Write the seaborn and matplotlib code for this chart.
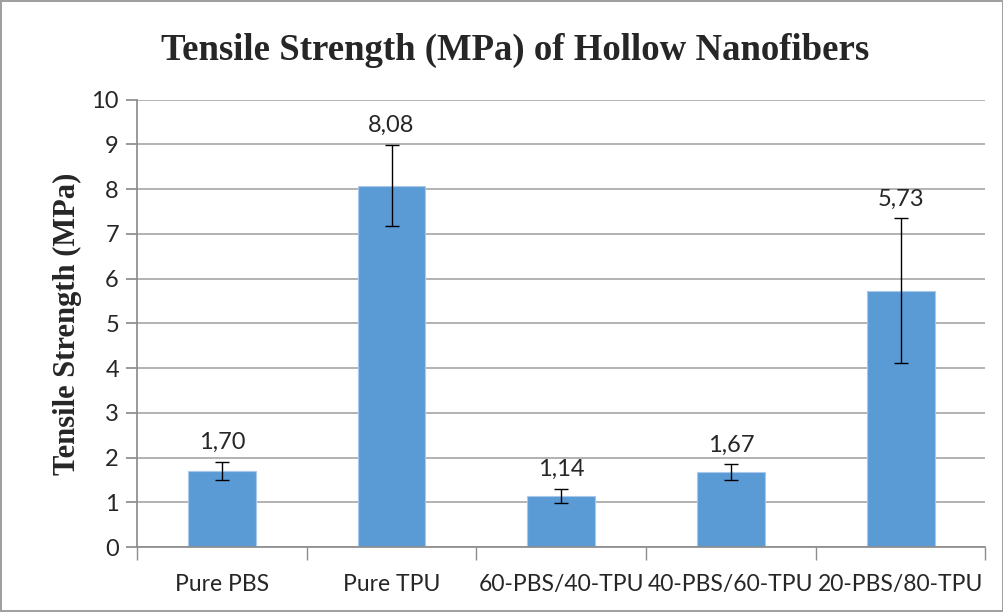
import numpy as np
import pandas as pd
import matplotlib.pyplot as plt
import seaborn as sns

sns.set_theme(style="white")
plt.rcParams['font.family'] = ['Lato', 'DejaVu Sans']

# data
samples = ["Pure PBS", "Pure TPU", "60-PBS/40-TPU", "40-PBS/60-TPU", "20-PBS/80-TPU"]
strength = [1.70, 8.08, 1.14, 1.67, 5.73]
strength_err = [0.21, 0.91, 0.16, 0.18, 1.62]
labels = ["1,70", "8,08", "1,14", "1,67", "5,73"]

df = pd.DataFrame({"sample": samples, "strength": strength, "err": strength_err})

fig = plt.figure(figsize=(10.04, 6.12), dpi=100, linewidth=1.5, edgecolor="#a0a0a0")
ax = fig.add_axes([0.1365, 0.106, 0.845, 0.731])

sns.barplot(data=df, x="sample", y="strength", color="#5b9bd5", width=0.4,
            edgecolor="#a9c8ec", linewidth=0.8, saturation=1, ax=ax, zorder=2)
xs = np.arange(len(df))
ax.errorbar(xs, df["strength"], yerr=df["err"], fmt="none", ecolor="black",
            elinewidth=1, capsize=5, capthick=1, zorder=3)

# value labels above the error bars
for x, v, e, lab in zip(xs, df["strength"], df["err"], labels):
    ax.text(x, v + e + 0.2, lab, ha="center", va="bottom", fontsize=17)

ax.set_ylim(0, 10)
ax.set_xlim(-0.5, 4.5)
ax.set_yticks(range(0, 11))
ax.yaxis.grid(True, color="#a6a6a6", linewidth=1.2, zorder=0)
ax.set_axisbelow(True)
for s in ["top", "right"]:
    ax.spines[s].set_visible(False)
ax.spines["left"].set_color("#8c8c8c")
ax.spines["bottom"].set_color("#8c8c8c")

ax.tick_params(axis="y", left=True, length=8, color="#8c8c8c", labelsize=17, pad=5)
ax.set_xticks(xs)
ax.set_xticklabels(samples)
ax.set_xticks(np.arange(-0.5, 5, 1), minor=True)
ax.tick_params(axis="x", which="major", length=0, labelsize=16.5, pad=19)
ax.tick_params(axis="x", which="minor", bottom=True, length=9, color="#8c8c8c")

ax.set_xlabel("")
ax.set_ylabel("Tensile Strength (MPa)", family=["Liberation Serif", "DejaVu Serif"],
              fontweight="bold", fontsize=22, labelpad=7)
fig.text(0.513, 0.918, "Tensile Strength (MPa) of Hollow Nanofibers",
         ha="center", va="center", family=["Liberation Serif", "DejaVu Serif"],
         fontweight="bold", fontsize=26.5)

fig.savefig("out.png", dpi=100)
